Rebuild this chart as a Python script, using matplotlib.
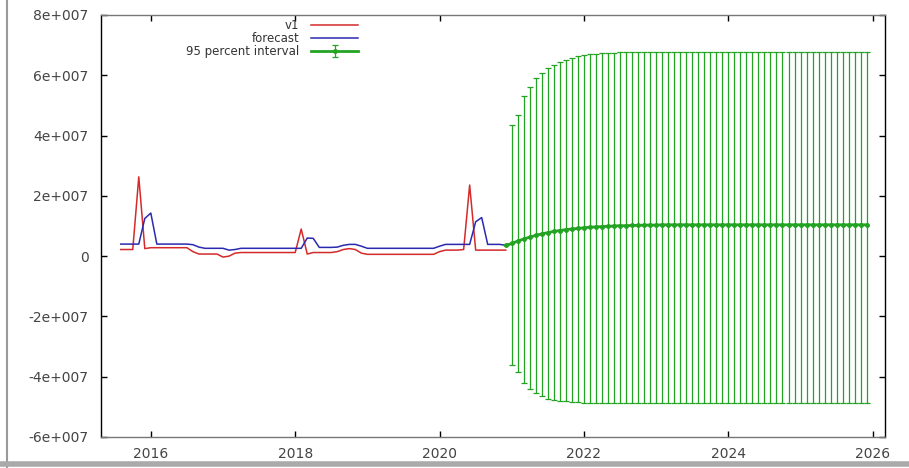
import numpy as np
import matplotlib.pyplot as plt
from matplotlib.lines import Line2D

# monthly series, Aug 2015 - Dec 2020 (units of 1e7)
v1 = [0.22, 0.22, 0.22, 2.63, 0.25, 0.28, 0.28, 0.28, 0.28, 0.28, 0.28, 0.28,
      0.15, 0.07, 0.07, 0.07, 0.07, -0.03, 0.00, 0.10, 0.12, 0.12, 0.12, 0.12,
      0.12, 0.12, 0.12, 0.12, 0.12, 0.12, 0.90, 0.07, 0.12, 0.12, 0.12, 0.12,
      0.15, 0.22, 0.25, 0.22, 0.10, 0.06, 0.06, 0.06, 0.06, 0.06, 0.06, 0.06,
      0.06, 0.06, 0.06, 0.06, 0.06, 0.15, 0.20, 0.20, 0.20, 0.22, 2.36, 0.20,
      0.20, 0.20, 0.20, 0.20, 0.20]
fitted = [0.40, 0.40, 0.40, 0.40, 1.25, 1.43, 0.40, 0.40, 0.40, 0.40, 0.40, 0.40,
          0.38, 0.30, 0.26, 0.26, 0.26, 0.26, 0.20, 0.22, 0.26, 0.26, 0.26, 0.26,
          0.26, 0.26, 0.26, 0.26, 0.26, 0.26, 0.26, 0.60, 0.59, 0.29, 0.29, 0.29,
          0.30, 0.36, 0.39, 0.39, 0.33, 0.26, 0.26, 0.26, 0.26, 0.26, 0.26, 0.26,
          0.26, 0.26, 0.26, 0.26, 0.26, 0.33, 0.39, 0.39, 0.39, 0.39, 0.39, 1.14,
          1.28, 0.39, 0.39, 0.39, 0.36]

# out-of-sample forecast, Dec 2020 - Dec 2025 (units of 1e7)
fc_mid = [0.36, 0.42, 0.50, 0.57, 0.63, 0.69, 0.74, 0.78, 0.82, 0.85, 0.88, 0.90,
          0.92, 0.94, 0.96, 0.97, 0.98, 0.99, 1.00, 1.01, 1.01, 1.02, 1.02, 1.03,
          1.03, 1.03, 1.04, 1.04, 1.04, 1.04, 1.04, 1.04, 1.04, 1.04, 1.04, 1.04,
          1.04, 1.04, 1.04, 1.04, 1.04, 1.04, 1.04, 1.04, 1.04, 1.04, 1.04, 1.04,
          1.04, 1.04, 1.04, 1.04, 1.04, 1.04, 1.04, 1.04, 1.04, 1.04, 1.04, 1.04,
          1.04]
fc_hi = [0.36, 4.34, 4.67, 5.32, 5.60, 5.90, 6.08, 6.23, 6.34, 6.43, 6.50, 6.58,
         6.64, 6.67, 6.69, 6.72, 6.73, 6.74, 6.75, 6.76, 6.77, 6.77, 6.78, 6.78,
         6.78, 6.78, 6.78, 6.78, 6.78, 6.78, 6.78, 6.78, 6.78, 6.78, 6.78, 6.78,
         6.78, 6.78, 6.78, 6.78, 6.78, 6.78, 6.78, 6.78, 6.78, 6.78, 6.78, 6.78,
         6.78, 6.78, 6.78, 6.78, 6.78, 6.78, 6.78, 6.78, 6.78, 6.78, 6.78, 6.78,
         6.78]
fc_lo = [0.36, -3.62, -3.84, -4.22, -4.40, -4.55, -4.65, -4.73, -4.78, -4.80, -4.82, -4.84,
         -4.85, -4.86, -4.86, -4.87, -4.87, -4.87, -4.87, -4.87, -4.87, -4.87, -4.87, -4.87,
         -4.87, -4.87, -4.87, -4.87, -4.87, -4.87, -4.87, -4.87, -4.86, -4.86, -4.86, -4.86,
         -4.86, -4.86, -4.86, -4.86, -4.86, -4.86, -4.86, -4.86, -4.86, -4.86, -4.86, -4.86,
         -4.86, -4.86, -4.86, -4.86, -4.86, -4.86, -4.86, -4.86, -4.86, -4.86, -4.86, -4.86,
         -4.86]

scale = 1e7
t_hist = 2015 + (7 + np.arange(len(v1))) / 12.0
t_fc = 2015 + (7 + len(v1) - 1 + np.arange(len(fc_mid))) / 12.0

v1 = np.array(v1) * scale
fitted = np.array(fitted) * scale
mid = np.array(fc_mid) * scale
hi = np.array(fc_hi) * scale
lo = np.array(fc_lo) * scale

red = '#d42a2a'
blue = '#2a2ab0'
green = '#22a322'

fig = plt.figure(figsize=(9.09, 4.68), dpi=100)
ax = fig.add_axes([101 / 909, 1 - 437 / 468, 784 / 909, 422 / 468])

ax.plot(t_hist, v1, color=red, lw=1.1, label='v1')
ax.plot(t_hist, fitted, color=blue, lw=1.1, label='forecast')
ax.errorbar(t_fc, mid, yerr=[mid - lo, hi - mid], color=green, ecolor=green,
            elinewidth=0.9, capsize=2, capthick=0.9, lw=2, marker='o', ms=2.5,
            label='95 percent interval')

ax.set_xlim(2015.31, 2026.17)
ax.set_ylim(-6e7, 8e7)
ax.set_xticks([2016, 2018, 2020, 2022, 2024, 2026])
yt = np.arange(-6, 9, 2)
ax.set_yticks(yt * scale)
ax.set_yticklabels(['0' if v == 0 else f'{v}e+007' for v in yt])
ax.tick_params(direction='in', top=True, right=True, length=4, width=1,
               labelsize=10, labelcolor='#444444', pad=9)
ax.tick_params(axis='x', pad=7)
for s in ax.spines.values():
    s.set_color('black')
    s.set_linewidth(1)
ax.spines['top'].set_color('#777777')
ax.spines['bottom'].set_color('#777777')

leg = ax.legend(loc='upper right', bbox_to_anchor=(0.328, 0.99), frameon=False,
                markerfirst=False, fontsize=8.5, handlelength=4.0,
                labelspacing=0.0, handletextpad=1.0, borderpad=0,
                borderaxespad=0)
for txt in leg.get_texts():
    txt.set_color('#333333')

# screenshot frame
fig.add_artist(Line2D([7 / 909, 7 / 909], [0, 1], color='#999999', lw=1.5))
fig.add_artist(Line2D([0, 1], [4 / 468, 4 / 468], color='#aaaaaa', lw=4))

fig.savefig('out.png', dpi=100)
